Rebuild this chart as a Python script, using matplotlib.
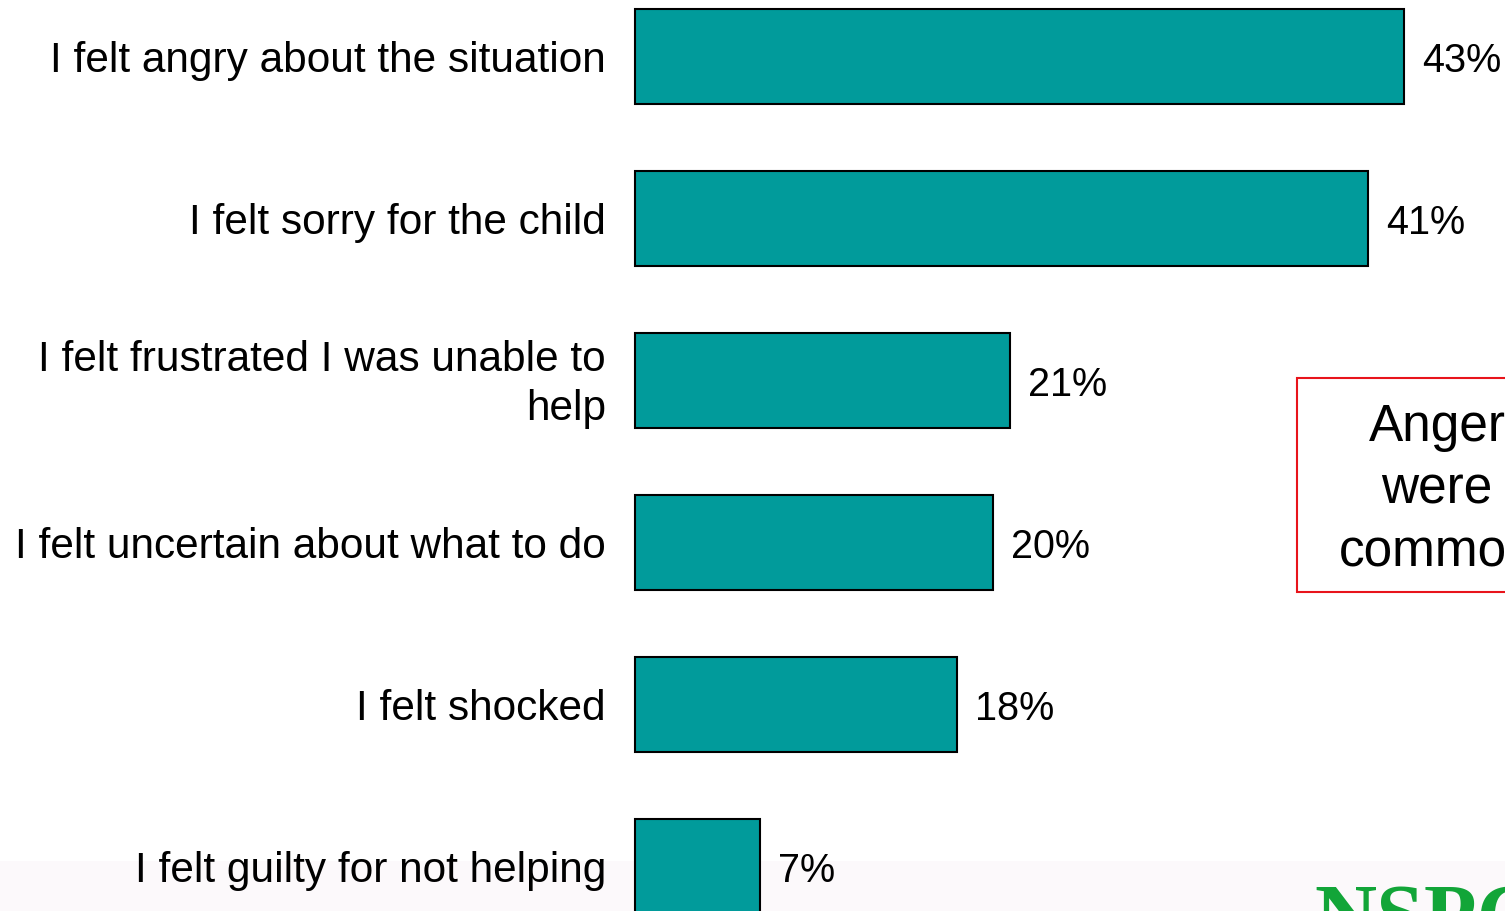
import matplotlib
matplotlib.use("Agg")
import matplotlib.pyplot as plt
from matplotlib.patches import Rectangle

plt.rcParams["font.family"] = ["Liberation Sans", "DejaVu Sans"]

feelings = ["I felt angry about the situation",
            "I felt sorry for the child",
            "I felt frustrated I was unable to\nhelp",
            "I felt uncertain about what to do",
            "I felt shocked",
            "I felt guilty for not helping"]
percent = [43, 41, 21, 20, 18, 7]
value_labels = ["43%", "41%", "21%", "20%", "18%", "7%"]
callout = "Anger\nwere\ncommon"
logo = "NSPCC"

W, H = 1505, 912
fig = plt.figure(figsize=(W / 100, H / 100), dpi=100)
fig.patch.set_facecolor("white")

ax = fig.add_axes([0, 0, 1, 1])
ax.patch.set_alpha(0)
px = 17.88            # pixels per percent
x0 = 635              # bar origin in pixels
ax.set_xlim(-x0 / px, (W - x0) / px)
ax.set_ylim((H - 57.5) / 162.0, -57.5 / 162.0)
ax.axis("off")

# pale strip along the bottom of the slide, behind the bars
ax.add_patch(Rectangle((0, 0), 1, 1 - 862 / H, transform=ax.transAxes,
                       facecolor="#fcf9fb", edgecolor="none", zorder=0))

ypos = list(range(len(feelings)))
ax.barh(ypos, percent, height=0.587, color="#019b9b", edgecolor="black",
        linewidth=1.5, zorder=2)

for y, name in zip(ypos, feelings):
    ax.text(-29 / px, y + 0.02, name, ha="right", va="center", fontsize=30.5,
            linespacing=1.3, multialignment="right")

for y, v, lab in zip(ypos, percent, value_labels):
    ax.text(v + 18 / px, y + 0.02, lab, ha="left", va="center", fontsize=28.5)

# callout box running off the right edge
ax.add_patch(Rectangle((1297 / W, 1 - 593 / H), 300 / W, 214 / H,
                       transform=ax.transAxes, facecolor="white",
                       edgecolor="#e8141b", linewidth=1.5, zorder=3,
                       clip_on=False))
ax.text(1437 / W, 1 - 490 / H, callout, transform=ax.transAxes,
        ha="center", va="center", multialignment="center", fontsize=37,
        linespacing=1.36, zorder=4)

ax.text(1314 / W, 1 - 884 / H, logo, transform=ax.transAxes, ha="left",
        va="top", fontsize=62, family=["Liberation Serif"], fontweight="bold",
        color="#12a538", zorder=4)

fig.savefig("out.png", dpi=100)
